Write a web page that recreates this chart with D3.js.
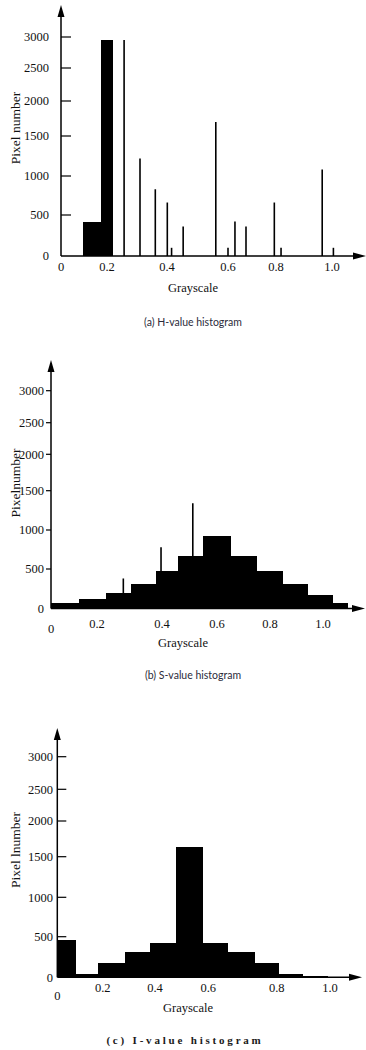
<!DOCTYPE html>
<html>
<head>
<meta charset="utf-8">
<script src="https://cdn.jsdelivr.net/npm/d3@7"></script>
<style>
  html, body { margin: 0; padding: 0; background: #fff; }
  svg { display: block; }
</style>
</head>
<body>
<div id="chart"></div>
<script>
// shared axis ticks
const xTicks = [0, 0.2, 0.4, 0.6, 0.8, 1.0];
const xTickLabels = ['0', '0.2', '0.4', '0.6', '0.8', '1.0'];
const yTicks = [0, 500, 1000, 1500, 2000, 2500, 3000];

// (a) H-value histogram
const hBinEdges = [0.097, 0.174, 0.221];
const hBinCounts = [420, 2950];
const hSpikeX = [0.257, 0.31, 0.361, 0.401, 0.415, 0.453, 0.56, 0.6, 0.629, 0.675, 0.793, 0.818, 0.965, 1.005];
const hSpikeCount = [2950, 1220, 830, 660, 100, 360, 1700, 100, 420, 360, 660, 100, 1080, 100];

// (b) S-value histogram
const sBinEdges = [0, 0.122, 0.227, 0.304, 0.382, 0.459, 0.55, 0.653, 0.75, 0.85, 0.945, 1.039, 1.093];
const sBinCounts = [65, 120, 200, 310, 470, 670, 920, 670, 470, 310, 170, 65];
const sSpikeX = [0.281, 0.397, 0.512];
const sSpikeCount = [380, 780, 1340];

// (c) I-value histogram
const iBinEdges = [0, 0.082, 0.181, 0.285, 0.381, 0.478, 0.581, 0.658, 0.737, 0.81, 0.898, 0.994];
const iBinCounts = [460, 40, 180, 315, 420, 1630, 420, 315, 180, 35, 15];

const serif = '"Liberation Serif", "DejaVu Serif", serif';

// the source image is slightly stretched, so the scales follow the printed tick positions
const panels = [
    {
        edges: hBinEdges, counts: hBinCounts, spikeX: hSpikeX, spikeCount: hSpikeCount,
        xRange: [61, 107, 167, 228, 276, 332], yRange: [256, 215, 176, 136, 101, 68, 37],
        yTop: 5, xEnd: 366, tickLen: 10, yLabelRight: 49,
        xLabelY: 267, zeroDy: 0, xTitleX: 193, xTitleY: 288,
        yTitle: 'Pixel number', yTitleY: 128,
        caption: '(a) H-value histogram', captionY: 322, captionStyle: 'sans'
    },
    {
        edges: sBinEdges, counts: sBinCounts, spikeX: sSpikeX, spikeCount: sSpikeCount,
        xRange: [51, 97, 162, 217, 270, 323], yRange: [608.5, 569, 530, 490.7, 454.3, 422.7, 390.7],
        yTop: 360, xEnd: 365, tickLen: -5, yLabelRight: 44,
        xLabelY: 624, zeroDy: 5, xTitleX: 183, xTitleY: 643,
        yTitle: 'Pixelnumber', yTitleY: 483,
        caption: '(b) S-value histogram', captionY: 675, captionStyle: 'sans'
    },
    {
        edges: iBinEdges, counts: iBinCounts, spikeX: [], spikeCount: [],
        xRange: [57.3, 102.7, 155, 208.3, 276.7, 330], yRange: [977.3, 936.7, 897.3, 856.7, 821, 789.3, 756.7],
        yTop: 728, xEnd: 362, tickLen: 9, yLabelRight: 53,
        xLabelY: 988, zeroDy: 8, xTitleX: 188, xTitleY: 1008,
        yTitle: 'Pixel lnumber', yTitleY: 850,
        caption: '(c) I-value histogram', captionY: 1040, captionStyle: 'serif'
    }
];

const svg = d3.select('#chart')
    .append('svg')
    .attr('width', 366)
    .attr('height', 1050);

svg.append('rect').attr('width', 366).attr('height', 1050).attr('fill', '#fff');

panels.forEach(p => {
    const g = svg.append('g');
    const x = d3.scaleLinear().domain(xTicks).range(p.xRange);
    const y = d3.scaleLinear().domain(yTicks).range(p.yRange);
    const x0 = x(0), y0 = y(0);

    // histogram bins
    const bins = p.counts.map((c, i) => ({ a: p.edges[i], b: p.edges[i + 1], c }));
    g.selectAll('rect.bin')
        .data(bins)
        .join('rect')
        .attr('class', 'bin')
        .attr('x', d => x(d.a))
        .attr('y', d => y(d.c))
        .attr('width', d => x(d.b) - x(d.a))
        .attr('height', d => y0 - y(d.c))
        .attr('fill', '#000')
        .attr('shape-rendering', 'crispEdges');

    // single-value spikes
    g.selectAll('line.spike')
        .data(p.spikeX.map((v, i) => ({ v, c: p.spikeCount[i] })))
        .join('line')
        .attr('class', 'spike')
        .attr('x1', d => x(d.v)).attr('x2', d => x(d.v))
        .attr('y1', y0).attr('y2', d => y(d.c))
        .attr('stroke', '#000')
        .attr('stroke-width', 1.6);

    // axes with arrow heads
    g.append('line')
        .attr('x1', x0).attr('x2', x0)
        .attr('y1', y0).attr('y2', p.yTop + 8)
        .attr('stroke', '#000').attr('stroke-width', 1.5);
    g.append('path')
        .attr('d', `M${x0},${p.yTop} L${x0 - 3.5},${p.yTop + 12} L${x0 + 3.5},${p.yTop + 12} Z`)
        .attr('fill', '#000');
    g.append('line')
        .attr('x1', x0).attr('x2', p.xEnd - 8)
        .attr('y1', y0).attr('y2', y0)
        .attr('stroke', '#000').attr('stroke-width', 1.5);
    g.append('path')
        .attr('d', `M${p.xEnd},${y0} L${p.xEnd - 13},${y0 - 3.5} L${p.xEnd - 13},${y0 + 3.5} Z`)
        .attr('fill', '#000');

    // y ticks and labels
    g.selectAll('line.ytick')
        .data(yTicks.slice(1))
        .join('line')
        .attr('class', 'ytick')
        .attr('x1', x0).attr('x2', x0 + p.tickLen)
        .attr('y1', d => y(d)).attr('y2', d => y(d))
        .attr('stroke', '#000').attr('stroke-width', 1.2);
    g.selectAll('text.ylab')
        .data(yTicks)
        .join('text')
        .attr('class', 'ylab')
        .attr('x', p.yLabelRight)
        .attr('y', d => y(d))
        .attr('dy', '0.35em')
        .attr('text-anchor', 'end')
        .attr('font-family', serif)
        .attr('font-size', 12.5)
        .attr('fill', '#111')
        .text(d => d);

    // x tick labels
    g.selectAll('text.xlab')
        .data(xTicks)
        .join('text')
        .attr('class', 'xlab')
        .attr('x', d => x(d))
        .attr('y', (d, i) => p.xLabelY + (i === 0 ? p.zeroDy : 0))
        .attr('dy', '0.35em')
        .attr('text-anchor', 'middle')
        .attr('font-family', serif)
        .attr('font-size', 12.5)
        .attr('fill', '#111')
        .text((d, i) => xTickLabels[i]);

    // axis titles
    g.append('text')
        .attr('x', p.xTitleX).attr('y', p.xTitleY)
        .attr('dy', '0.35em')
        .attr('text-anchor', 'middle')
        .attr('font-family', serif)
        .attr('font-size', 12.5)
        .attr('fill', '#111')
        .text('Grayscale');
    g.append('text')
        .attr('transform', `translate(15,${p.yTitleY}) rotate(-90)`)
        .attr('dy', '0.35em')
        .attr('text-anchor', 'middle')
        .attr('font-family', serif)
        .attr('font-size', 13.5)
        .attr('fill', '#111')
        .text(p.yTitle);

    // caption
    const cap = g.append('text')
        .attr('y', p.captionY)
        .attr('dy', '0.35em')
        .attr('text-anchor', 'middle')
        .text(p.caption);
    if (p.captionStyle === 'sans') {
        cap.attr('x', 193)
            .attr('font-family', 'Lato, "Open Sans", sans-serif')
            .attr('font-size', 10.5)
            .attr('fill', '#2b2b3a');
    } else {
        cap.attr('x', 185)
            .attr('font-family', serif)
            .attr('font-weight', 'bold')
            .attr('font-size', 11)
            .attr('letter-spacing', 2.8)
            .attr('fill', '#1a1a1a');
    }
});
</script>
</body>
</html>
